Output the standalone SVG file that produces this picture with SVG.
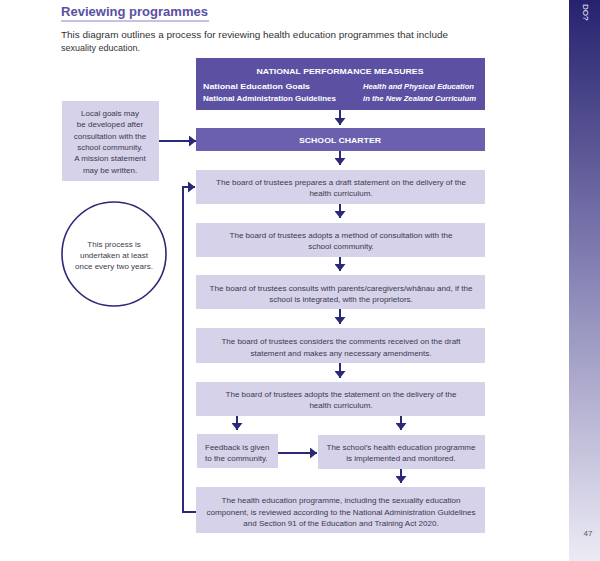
<svg xmlns="http://www.w3.org/2000/svg" width="600" height="561" viewBox="0 0 600 561">
<defs>
<linearGradient id="side" x1="0" y1="0" x2="0" y2="1">
<stop offset="0" stop-color="#26226f"/>
<stop offset="0.45" stop-color="#7f7bb0"/>
<stop offset="1" stop-color="#ecebf4"/>
</linearGradient>
<marker id="ah" viewBox="0 0 7 11" markerWidth="7" markerHeight="11" refX="7" refY="5.5" orient="auto" markerUnits="userSpaceOnUse">
<path d="M0,0 L7,5.5 L0,11 z" fill="#2b2878"/>
</marker>
<style>
.t{font-family:"Liberation Sans",Arial,sans-serif;font-size:8px;fill:#3b3a4f;text-anchor:middle}
.s{font-family:"Liberation Sans",Arial,sans-serif;font-size:8px;fill:#3b3a4f;text-anchor:start}
.w{font-family:"Liberation Sans",Arial,sans-serif;font-size:8px;fill:#ffffff;font-weight:bold}
.lb{fill:#d5d2e9}
.ln{stroke:#2b2878;stroke-width:2;fill:none}
.ar{stroke:#2b2878;stroke-width:2;fill:none;marker-end:url(#ah)}
</style>
</defs>
<rect width="600" height="561" fill="#ffffff"/>
<rect x="569" y="0" width="31" height="561" fill="url(#side)"/>
<text transform="translate(583,4) rotate(90)" font-family="Liberation Sans,Arial,sans-serif" font-size="8" fill="#ffffff">DO?</text>
<text x="588" y="536" font-family="Liberation Sans,Arial,sans-serif" font-size="8" fill="#55556a" text-anchor="middle">47</text>
<g id="header">
<text x="61" y="16" font-family="Liberation Sans,Arial,sans-serif" font-size="12.5" font-weight="bold" fill="#5a4fa3" textLength="147" lengthAdjust="spacingAndGlyphs">Reviewing programmes</text>
<line x1="61" y1="21" x2="209" y2="21" stroke="#8d84c8" stroke-width="1"/>
<text x="61" y="38" font-family="Liberation Sans,Arial,sans-serif" font-size="9" fill="#333333" textLength="387" lengthAdjust="spacingAndGlyphs">This diagram outlines a process for reviewing health education programmes that include</text>
<text x="61" y="51" font-family="Liberation Sans,Arial,sans-serif" font-size="9" fill="#333333">sexuality education.</text>
</g>
<g id="connectors">
<line class="ar" x1="340" y1="110" x2="340" y2="125"/>
<line class="ar" x1="340" y1="151" x2="340" y2="165"/>
<line class="ar" x1="340" y1="204" x2="340" y2="218"/>
<line class="ar" x1="340" y1="257" x2="340" y2="271"/>
<line class="ar" x1="340" y1="309" x2="340" y2="324"/>
<line class="ar" x1="340" y1="363" x2="340" y2="378"/>
<line class="ar" x1="237" y1="416" x2="237" y2="430"/>
<line class="ar" x1="401" y1="416" x2="401" y2="430"/>
<line class="ar" x1="401" y1="469" x2="401" y2="483"/>
<line class="ar" x1="158" y1="141" x2="196" y2="141"/>
<line class="ar" x1="278" y1="453" x2="317" y2="453"/>
<polyline class="ar" points="196,512 183,512 183,187 195,187"/>
</g>
<g id="npm">
<rect x="196" y="58" width="289" height="52" fill="#5b50a2"/>
<text class="w" x="340" y="74" text-anchor="middle" textLength="167" lengthAdjust="spacingAndGlyphs">NATIONAL PERFORMANCE MEASURES</text>
<text class="w" x="203" y="89" textLength="107" lengthAdjust="spacingAndGlyphs">National Education Goals</text>
<text class="w" x="203" y="101" textLength="133" lengthAdjust="spacingAndGlyphs">National Administration Guidelines</text>
<text class="w" x="363" y="89" font-style="italic" textLength="111" lengthAdjust="spacingAndGlyphs">Health and Physical Education</text>
<text class="w" x="363" y="101" font-style="italic" textLength="113" lengthAdjust="spacingAndGlyphs">in the New Zealand Curriculum</text>
</g>
<g id="charter">
<rect x="196" y="128" width="289" height="23" fill="#6a60ad"/>
<text class="w" x="340" y="143" text-anchor="middle" textLength="82" lengthAdjust="spacingAndGlyphs">SCHOOL CHARTER</text>
</g>
<g id="local">
<rect class="lb" x="62" y="101" width="97" height="80"/>
<text class="t" x="110" y="116">Local goals may</text>
<text class="t" x="110" y="127">be developed after</text>
<text class="t" x="110" y="139">consultation with the</text>
<text class="t" x="110" y="150">school community.</text>
<text class="t" x="110" y="161">A mission statement</text>
<text class="t" x="110" y="173">may be written.</text>
</g>
<g id="cycle">
<circle cx="114" cy="254" r="52" fill="#ffffff" stroke="#2b2878" stroke-width="1.6"/>
<text class="t" x="114" y="247">This process is</text>
<text class="t" x="114" y="258">undertaken at least</text>
<text class="t" x="114" y="269">once every two years.</text>
</g>
<g id="step1">
<rect class="lb" x="196" y="170" width="289" height="34"/>
<text class="t" x="341" y="185" textLength="250" lengthAdjust="spacingAndGlyphs">The board of trustees prepares a draft statement on the delivery of the</text>
<text class="t" x="341" y="196">health curriculum.</text>
</g>
<g id="step2">
<rect class="lb" x="196" y="223" width="289" height="34"/>
<text class="t" x="341" y="238" textLength="223" lengthAdjust="spacingAndGlyphs">The board of trustees adopts a method of consultation with the</text>
<text class="t" x="341" y="249">school community.</text>
</g>
<g id="step3">
<rect class="lb" x="196" y="275" width="289" height="34"/>
<text class="t" x="341" y="291" textLength="263" lengthAdjust="spacingAndGlyphs">The board of trustees consults with parents/caregivers/whānau and, if the</text>
<text class="t" x="341" y="302">school is integrated, with the proprietors.</text>
</g>
<g id="step4">
<rect class="lb" x="196" y="328" width="289" height="35"/>
<text class="t" x="341" y="344" textLength="239" lengthAdjust="spacingAndGlyphs">The board of trustees considers the comments received on the draft</text>
<text class="t" x="341" y="356">statement and makes any necessary amendments.</text>
</g>
<g id="step5">
<rect class="lb" x="196" y="382" width="289" height="34"/>
<text class="t" x="341" y="397" textLength="231" lengthAdjust="spacingAndGlyphs">The board of trustees adopts the statement on the delivery of the</text>
<text class="t" x="341" y="408">health curriculum.</text>
</g>
<g id="feedback">
<rect class="lb" x="197" y="434" width="81" height="34"/>
<text class="s" x="205" y="450">Feedback is given</text>
<text class="s" x="205" y="461">to the community.</text>
</g>
<g id="implemented">
<rect class="lb" x="318" y="435" width="167" height="34"/>
<text class="t" x="401" y="450" textLength="149" lengthAdjust="spacingAndGlyphs">The school’s health education programme</text>
<text class="t" x="401" y="461">is implemented and monitored.</text>
</g>
<g id="review">
<rect class="lb" x="196" y="487" width="289" height="46"/>
<text class="t" x="341" y="503" textLength="239" lengthAdjust="spacingAndGlyphs">The health education programme, including the sexuality education</text>
<text class="t" x="341" y="515" textLength="269" lengthAdjust="spacingAndGlyphs">component, is reviewed according to the National Administration Guidelines</text>
<text class="t" x="341" y="526">and Section 91 of the Education and Training Act 2020.</text>
</g>
</svg>
